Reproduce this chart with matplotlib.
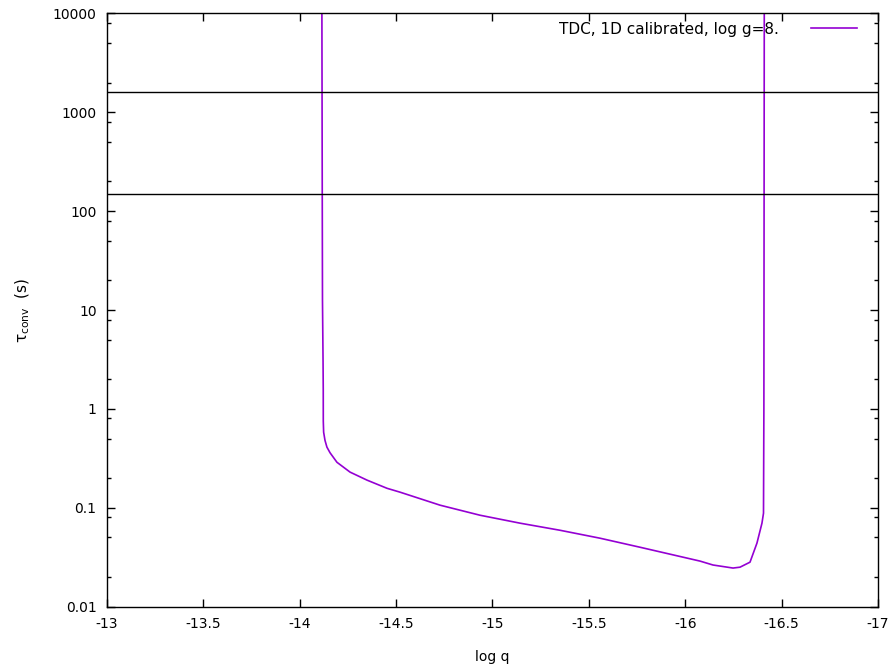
import matplotlib
matplotlib.use("Agg")
import matplotlib.pyplot as plt
from matplotlib.ticker import FixedLocator, NullFormatter
import numpy as np

plt.rcParams['font.family'] = ['DejaVu Sans']
plt.rcParams['axes.unicode_minus'] = False
plt.rcParams['mathtext.fontset'] = 'dejavusans'

# convective turnover time along the envelope
log_q = [-14.115, -14.116, -14.117, -14.118, -14.121, -14.122, -14.1222, -14.124,
         -14.131, -14.141, -14.157, -14.193, -14.261, -14.349, -14.453, -14.52,
         -14.728, -14.935, -15.143, -15.35, -15.558, -15.765, -16.077, -16.144,
         -16.248, -16.284, -16.336, -16.372, -16.398, -16.406, -16.408, -16.409,
         -16.41]
tau_conv = [10000, 1000, 100, 12.6, 3.0, 1.55, 0.75, 0.58,
            0.48, 0.41, 0.36, 0.288, 0.229, 0.19, 0.157, 0.1436,
            0.106, 0.0839, 0.0697, 0.0591, 0.0491, 0.0398, 0.0288, 0.0263,
            0.0245, 0.025, 0.0281, 0.0438, 0.0697, 0.088, 1.0, 100,
            10000]

# reference timescales (s)
ref_lines = [1600, 150]

x_ticks = [-13, -13.5, -14, -14.5, -15, -15.5, -16, -16.5, -17]
x_labels = ['-13', '-13.5', '-14', '-14.5', '-15', '-15.5', '-16', '-16.5', '-17']
y_ticks = [0.01, 0.1, 1, 10, 100, 1000, 10000]
y_labels = ['0.01', '0.1', '1', '10', '100', '1000', '10000']
y_minor = [m * 10.0 ** k for k in range(-2, 4) for m in (2, 5, 8)]

fig = plt.figure(figsize=(8.93, 6.71), dpi=100)
ax = fig.add_axes([0.1198, 0.0961, 0.8634, 0.8838])

ax.plot(log_q, tau_conv, color='#9400d3', lw=1.2,
        label='TDC, 1D calibrated, log g=8.')
for v in ref_lines:
    ax.axhline(v, color='black', lw=1.0)

ax.set_yscale('log')
ax.set_xlim(-13, -17)
ax.set_ylim(0.01, 10000)

ax.set_xticks(x_ticks)
ax.set_xticklabels(x_labels)
ax.set_yticks(y_ticks)
ax.set_yticklabels(y_labels)
ax.yaxis.set_minor_locator(FixedLocator(y_minor))
ax.yaxis.set_minor_formatter(NullFormatter())
ax.xaxis.set_minor_locator(FixedLocator([]))

ax.tick_params(which='both', direction='in', top=True, right=True, labelsize=10,
               colors='black', pad=7.5)
ax.tick_params(which='major', length=6, width=1)
ax.tick_params(which='minor', length=3, width=1)
for s in ax.spines.values():
    s.set_linewidth(1.0)

ax.set_xlabel('log q', fontsize=10, labelpad=14)
ax.set_ylabel(r'$\mathregular{\tau_{conv}}$  (s)', fontsize=11, labelpad=15)

ax.legend(loc='upper right', bbox_to_anchor=(0.973, 0.986), frameon=False,
          markerfirst=False, fontsize=11, handlelength=3.0, borderaxespad=0,
          borderpad=0, handletextpad=2.1)

fig.savefig('out.png', dpi=100)
